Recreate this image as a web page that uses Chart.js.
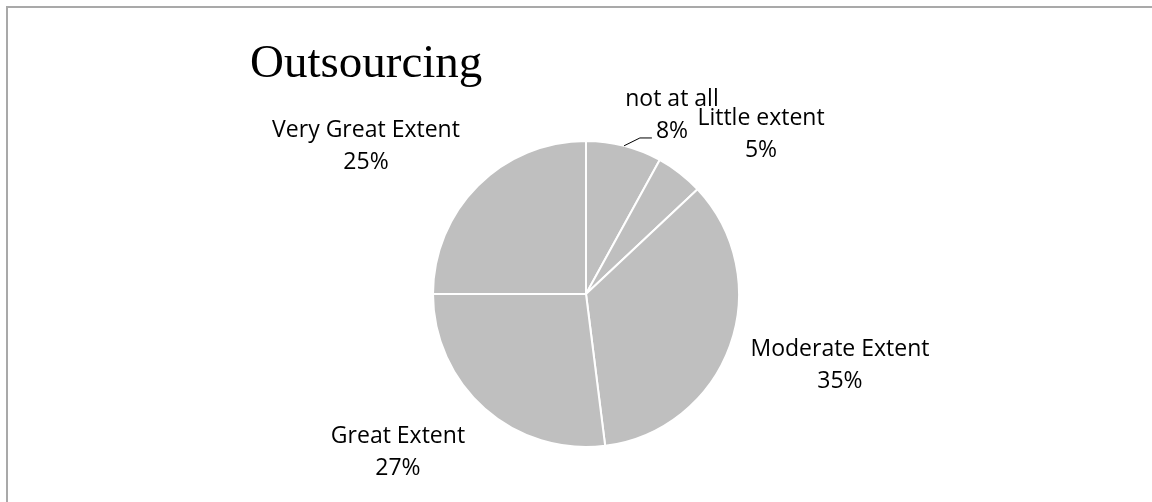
<!DOCTYPE html>
<html>
<head>
<meta charset="utf-8">
<script src="https://cdn.jsdelivr.net/npm/chart.js@4.4.1/dist/chart.umd.min.js"></script>
<style>
  html, body { margin: 0; padding: 0; background: #fff; overflow: hidden; }
  #wrap { position: relative; width: 1152px; height: 502px; }
  #frame { position: absolute; left: 6px; top: 6px; width: 1400px; height: 800px;
           border-left: 2px solid #a9a9a9; border-top: 2px solid #a9a9a9; pointer-events: none; }
  canvas { position: absolute; left: 0; top: 0; }
</style>
</head>
<body>
<div id="wrap">
  <canvas id="c" width="1152" height="502"></canvas>
  <div id="frame"></div>
</div>
<script>
// ---- data ----
const titleText = "Outsourcing";
const categories = ["not at all", "Little extent", "Moderate Extent", "Great Extent", "Very Great Extent"];
const percentages = [8, 5, 35, 27, 25];

// ---- label layout (offsets from pie centre, in units of radius) ----
const labelOffsets = [
  [0.562, -1.229],
  [1.144, -1.105],
  [1.660, 0.405],
  [-1.229, 0.974],
  [-1.438, -1.026]
];
const leaderFor = [true, false, false, false, false];

const labelPlugin = {
  id: 'pieLabels',
  afterDraw(chart) {
    const ctx = chart.ctx;
    const meta = chart.getDatasetMeta(0);
    ctx.save();
    // title
    ctx.fillStyle = '#000';
    ctx.font = '47px "Liberation Serif", "Times New Roman", serif';
    ctx.textAlign = 'left';
    ctx.textBaseline = 'alphabetic';
    ctx.fillText(titleText, 250, 77);

    ctx.font = '23px "Open Sans", sans-serif';
    ctx.textAlign = 'center';
    meta.data.forEach((arc, i) => {
      const p = arc.getProps(['x', 'y', 'outerRadius', 'startAngle', 'endAngle'], true);
      const r = p.outerRadius;
      const lx = p.x + labelOffsets[i][0] * r;
      const ly = p.y + labelOffsets[i][1] * r;
      const pct = percentages[i] + '%';
      ctx.fillStyle = '#000';
      ctx.fillText(categories[i], lx, ly);
      ctx.fillText(pct, lx, ly + 32);
      if (leaderFor[i]) {
        const mid = (p.startAngle + p.endAngle) / 2;
        const ex = p.x + Math.cos(mid) * r;
        const ey = p.y + Math.sin(mid) * r;
        const w = ctx.measureText(pct).width;
        const endX = lx - w / 2 - 4;
        const endY = ly + 32;
        ctx.strokeStyle = '#000';
        ctx.lineWidth = 1;
        ctx.beginPath();
        ctx.moveTo(ex, ey);
        ctx.lineTo(endX - 12, endY);
        ctx.lineTo(endX, endY);
        ctx.stroke();
      }
    });
    ctx.restore();
  }
};

new Chart(document.getElementById('c'), {
  type: 'pie',
  data: {
    labels: categories,
    datasets: [{
      data: percentages,
      backgroundColor: '#bfbfbf',
      borderColor: '#ffffff',
      borderWidth: 2
    }]
  },
  options: {
    responsive: false,
    animation: false,
    layout: { padding: { top: 140, bottom: 54, left: 280, right: 260 } },
    plugins: {
      legend: { display: false },
      tooltip: { enabled: false },
      title: { display: false }
    }
  },
  plugins: [labelPlugin]
});
</script>
</body>
</html>
